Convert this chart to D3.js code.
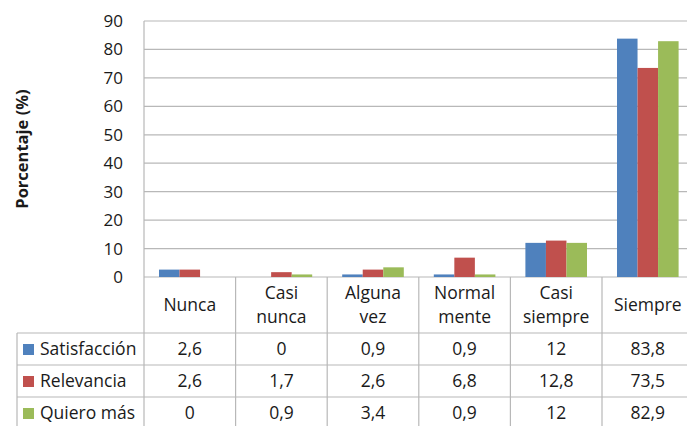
<!DOCTYPE html>
<html lang="es">
<head>
<meta charset="UTF-8">
<title>Porcentaje</title>
<script src="https://d3js.org/d3.v7.min.js"></script>
<style>
  body { margin: 0; background: #fff; }
  svg text { font-family: 'Open Sans', 'Noto Sans', sans-serif; fill: #1a1a1a; }
</style>
</head>
<body>
<div id="chart"></div>
<script>
// data
var categories = [["Nunca"], ["Casi", "nunca"], ["Alguna", "vez"], ["Normal", "mente"], ["Casi", "siempre"], ["Siempre"]];
var seriesNames = ["Satisfacción", "Relevancia", "Quiero más"];
var satisfaccion = [2.6, 0, 0.9, 0.9, 12, 83.8];
var relevancia = [2.6, 1.7, 2.6, 6.8, 12.8, 73.5];
var quieroMas = [0, 0.9, 3.4, 0.9, 12, 82.9];
var labels = [["2,6", "0", "0,9", "0,9", "12", "83,8"],
              ["2,6", "1,7", "2,6", "6,8", "12,8", "73,5"],
              ["0", "0,9", "3,4", "0,9", "12", "82,9"]];
var yTicks = [0, 10, 20, 30, 40, 50, 60, 70, 80, 90];
var colors = ["#4F81BD", "#C0504D", "#9BBB59"];

var W = 687, H = 426;
var plotLeft = 144, plotTop = 21, zeroY = 277, colW = 91.6;
var rowH = 32, headerBottom = 333, legendLeft = 17;
var gridColor = "#b8b8b8";
var fs = "17.5px";

var svg = d3.select("#chart").append("svg")
  .attr("width", W).attr("height", H);

var x0 = d3.scaleBand()
  .domain(d3.range(categories.length))
  .range([plotLeft, plotLeft + colW * categories.length]);

var x1 = d3.scaleBand()
  .domain(d3.range(seriesNames.length))
  .range([15, colW - 15]);

var y = d3.scaleLinear().domain([0, 90]).range([zeroY, plotTop]);

// gridlines
svg.append("g").selectAll("line")
  .data(yTicks)
  .enter().append("line")
  .attr("x1", plotLeft).attr("x2", W)
  .attr("y1", function(d){ return y(d); })
  .attr("y2", function(d){ return y(d); })
  .attr("stroke", gridColor).attr("stroke-width", 1.2);

// tick labels
svg.append("g").selectAll("text")
  .data(yTicks)
  .enter().append("text")
  .attr("x", 123)
  .attr("y", function(d){ return y(d) + 6; })
  .attr("text-anchor", "end")
  .style("font-size", "17px")
  .text(function(d){ return d; });

// axis title
svg.append("text")
  .attr("transform", "translate(28,149) rotate(-90)")
  .attr("text-anchor", "middle")
  .style("font-size", "16.5px")
  .style("font-weight", "bold")
  .text("Porcentaje (%)");

// bars
var series = [satisfaccion, relevancia, quieroMas];
var groups = svg.append("g").selectAll("g")
  .data(categories)
  .enter().append("g")
  .attr("transform", function(d, i){ return "translate(" + x0(i) + ",0)"; });

groups.selectAll("rect")
  .data(function(d, i){ return series.map(function(s, j){ return {s: j, v: s[i]}; }); })
  .enter().append("rect")
  .attr("x", function(d){ return x1(d.s); })
  .attr("width", x1.bandwidth())
  .attr("y", function(d){ return y(d.v); })
  .attr("height", function(d){ return zeroY - y(d.v); })
  .attr("fill", function(d){ return colors[d.s]; });

// table lines
var tableBottom = headerBottom + rowH * 3;
var rowLines = [headerBottom, headerBottom + rowH, headerBottom + rowH * 2, tableBottom];
svg.append("g").selectAll("line")
  .data(rowLines)
  .enter().append("line")
  .attr("x1", legendLeft).attr("x2", W)
  .attr("y1", function(d){ return d; }).attr("y2", function(d){ return d; })
  .attr("stroke", gridColor).attr("stroke-width", 1.2);

svg.append("line")
  .attr("x1", legendLeft).attr("x2", legendLeft)
  .attr("y1", headerBottom).attr("y2", tableBottom)
  .attr("stroke", gridColor).attr("stroke-width", 1.2);

svg.append("line")
  .attr("x1", plotLeft).attr("x2", plotLeft)
  .attr("y1", plotTop).attr("y2", tableBottom)
  .attr("stroke", gridColor).attr("stroke-width", 1.2);

svg.append("g").selectAll("line")
  .data(d3.range(1, categories.length + 1))
  .enter().append("line")
  .attr("x1", function(d){ return plotLeft + colW * d; })
  .attr("x2", function(d){ return plotLeft + colW * d; })
  .attr("y1", zeroY).attr("y2", tableBottom)
  .attr("stroke", gridColor).attr("stroke-width", 1.2);

// category labels
var headerMid = (zeroY + headerBottom) / 2;
groups.each(function(lines){
  var g = d3.select(this);
  lines.forEach(function(t, k){
    var dy = lines.length === 1 ? 0 : (k === 0 ? -12 : 12);
    g.append("text")
      .attr("x", colW / 2)
      .attr("y", headerMid + dy + 6)
      .attr("text-anchor", "middle")
      .style("font-size", fs)
      .text(t);
  });
});

// table values and legend
seriesNames.forEach(function(name, r){
  var cy = headerBottom + rowH * r + rowH / 2;
  svg.append("rect")
    .attr("x", 23).attr("y", cy - 5)
    .attr("width", 11).attr("height", 11)
    .attr("fill", colors[r]);
  svg.append("text")
    .attr("x", 40).attr("y", cy + 6)
    .style("font-size", fs)
    .text(name);
  svg.append("g").selectAll("text")
    .data(labels[r])
    .enter().append("text")
    .attr("x", function(d, i){ return x0(i) + colW / 2; })
    .attr("y", cy + 6)
    .attr("text-anchor", "middle")
    .style("font-size", fs)
    .text(function(d){ return d; });
});
</script>
</body>
</html>
